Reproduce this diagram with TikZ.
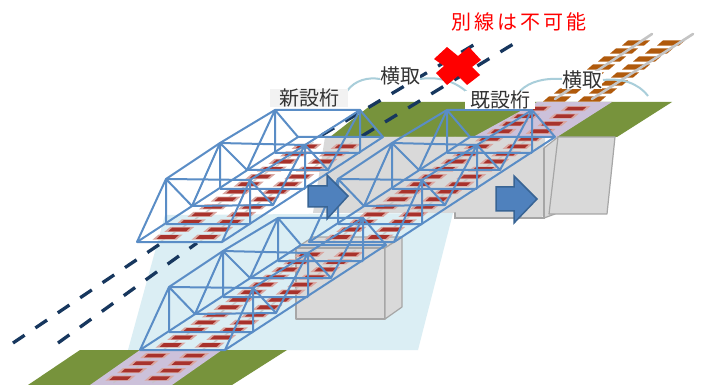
\documentclass[tikz,border=0pt]{standalone}
\usepackage{fontspec}
\newfontfamily\cjk{Noto Sans CJK JP}
\definecolor{trussblue}{HTML}{5A8DC6}
\definecolor{tiered}{HTML}{A8322C}
\definecolor{tiepale}{HTML}{D9A6A0}
\definecolor{railgrey}{HTML}{C4C4C4}
\definecolor{tiebrown}{HTML}{B05A0C}
\definecolor{groundgreen}{HTML}{77933C}
\definecolor{stripmauve}{HTML}{CCC1DA}
\definecolor{skyblue}{HTML}{DBEEF4}
\definecolor{blockgrey}{HTML}{D9D9D9}
\definecolor{blockedge}{HTML}{A6A6A6}
\definecolor{arcteal}{HTML}{A9CEDA}
\definecolor{navy}{HTML}{17375E}
\definecolor{arrowblue}{HTML}{4F81BD}
\definecolor{arrowedge}{HTML}{386494}
\tikzset{
  truss/.style={draw=trussblue,line width=2pt,line join=round},
  blockface/.style={fill=blockgrey,draw=blockedge,line width=1.2pt,line join=round},
  trackdash/.style={draw=navy,line width=3.3pt,dash pattern=on 14pt off 13pt},
  liftarc/.style={draw=arcteal,line width=2pt},
  movearrow/.style={fill=arrowblue,draw=arrowedge,line width=1.5pt,line join=miter},
  label/.style={font=\cjk\fontsize{20}{20}\selectfont,text=black!80,inner sep=0pt,minimum height=15pt},
  railline/.style={draw=railgrey,line width=2.6pt,line cap=round}
}
\newcommand{\trussat}[2]{%
\begin{scope}[shift={(#1,#2)}]
 \draw[truss] (137,242)--(222,242)--(383,137)--(298,137)--cycle;
 \draw[truss] (137,242)--(166,179)--(220,143)--(275,110)--(360,110)--(383,137);
 \draw[truss] (222,242)--(250,180)--(305,145)--(360,110);
 \draw[truss] (166,179)--(250,180) (220,143)--(305,145) (275,110)--(298,137);
 \draw[truss] (166,179)--(166,224) (166,179)--(192,206)--(220,143)--(220,189) (220,143)--(247,170)--(275,110)--(275,153);
 \draw[truss] (250,180)--(250,224) (250,180)--(273,205)--(305,145)--(305,189) (305,145)--(328,170)--(360,110)--(360,153);
 \draw[truss] (166,224)--(250,224) (192,206)--(273,205) (220,189)--(305,189) (247,170)--(328,170) (275,153)--(360,153);
\end{scope}}
\newcommand{\tiesat}[4]{%
\begin{scope}[shift={(#1,#2)}]
 \foreach \k in {#3,...,#4}{
  \pgfmathsetmacro{\yy}{237-7.55*\k}
  \pgfmathsetmacro{\xa}{137+(242-\yy)*1.533+23}
  \pgfmathsetmacro{\xb}{\xa+39}
  \foreach \xx in {\xa,\xb}{
   \draw[railgrey,line width=1.2pt,opacity=.7] (\xx-7,\yy+4.4)--(\xx+7,\yy-4.4);
   \fill[tiepale] (\xx-15,\yy+2.5)--(\xx+9,\yy+2.5)--(\xx+15,\yy-2.5)--(\xx-9,\yy-2.5)--cycle;
   \fill[tiered] (\xx-11,\yy+1.8)--(\xx+7,\yy+1.8)--(\xx+11,\yy-1.8)--(\xx-7,\yy-1.8)--cycle;
  }
 }
\end{scope}}
\begin{document}
\begin{tikzpicture}[x=1pt,y=-1pt]
\useasboundingbox (0,0) rectangle (702,385);
\fill[white] (0,0) rectangle (702,385);
% pale construction area
\fill[skyblue] (128,350)--(165,215)--(453,213)--(418,350)--cycle;
% grounds
\fill[groundgreen] (80,350)--(287,350)--(232,385)--(28,385)--cycle;
\fill[stripmauve] (140,350)--(222,350)--(172,385)--(90,385)--cycle;
\fill[groundgreen] (375,102)--(672,102)--(617,137)--(330,137)--cycle;
\fill[stripmauve] (537,102)--(612,102)--(557,137)--(473,137)--cycle;
% upper abutments
\fill[blockgrey] (325,137)--(545,137)--(545,213)--(313,213)--cycle;
\draw[blockface] (455,137)--(455,218)--(544,218)--(544,148)--(558,137)--(555,214)--(544,218);
\fill[blockgrey] (330,137)--(543,137)--(543,216)--(457,216)--(457,212)--(315,212)--cycle;
\draw[blockedge,line width=1.2pt] (455,213)--(455,218)--(544,218)--(544,148);
\draw[blockface] (558,137)--(615,137)--(607,214)--(549,214)--cycle;
% lower pier
\draw[blockface] (296,248)--(313,237)--(402,237)--(385,248)--cycle;
\draw[blockface] (296,248)--(385,248)--(385,319)--(296,319)--cycle;
\draw[blockface] (385,248)--(402,237)--(402,307)--(385,319)--cycle;
% far rails
\foreach \yy/\xx in {99/557,91/568,83/579,75/590,67/601,59/612,51/624,43/636}{
  \fill[tiebrown] (\xx-14,\yy+2.6)--(\xx+8,\yy+2.6)--(\xx+14,\yy-2.6)--(\xx-8,\yy-2.6)--cycle;
  \fill[tiebrown] (\xx+21,\yy+2.6)--(\xx+43,\yy+2.6)--(\xx+49,\yy-2.6)--(\xx+27,\yy-2.6)--cycle;
}
\draw[railline] (555,99)--(652,34);
\draw[railline] (592,99)--(693,34);
% ties on decks and strips
\tiesat{0}{0}{0}{12}
\tiesat{3}{108}{0}{12}
\tiesat{-1}{111}{-4}{-1}
\tiesat{172}{0}{0}{17}
% dashed line of the other track
\draw[trackdash] (13,343)--(163,242);
\draw[trackdash] (58,343)--(197,243);
\draw[trackdash] (322,135)--(477,43);
\draw[trackdash] (362,136)--(515,43);
% trusses
\trussat{3}{108}
\trussat{172}{0}
\trussat{0}{0}
% blue arrows
\draw[movearrow] (308,186)--(327,186)--(327,175)--(348,196)--(327,219)--(327,207)--(308,207)--cycle;
\draw[movearrow] (496,187)--(514,187)--(514,176)--(537,199)--(514,223)--(514,211)--(496,211)--cycle;
% lift arcs
\draw[liftarc] (347,91) .. controls (355,80) and (368,77) .. (380,79);
\draw[liftarc] (420,79) .. controls (440,76) and (458,82) .. (471,96);
\draw[liftarc] (520,91) .. controls (530,81) and (545,78) .. (562,79);
\draw[liftarc] (603,80) .. controls (622,78) and (638,83) .. (648,96);
% red cross
\fill[red] (447,47)--(458,56)--(469,47)--(481,60)--(472,67)--(480,75)--(467,85)--(458,76)--(447,85)--(436,73)--(444,66)--(434,59)--cycle;
% labels
\node[label,fill=black!5,minimum width=78pt] (newgirder) at (309,98) {新設桁};
\node[label,fill=white,minimum width=70pt] (oldgirder) at (500,100) {既設桁};
\node[label,fill=white,minimum width=40pt] (liftleft) at (400,76) {横取};
\node[label,fill=white,minimum width=40pt] (liftright) at (582,80) {横取};
\node[font=\cjk\fontsize{20}{20}\selectfont,text=red,inner sep=0pt] (nobypass) at (519,22) {別\hspace{3pt}線\hspace{3pt}は\hspace{3pt}不\hspace{3pt}可\hspace{3pt}能};
\end{tikzpicture}
\end{document}
